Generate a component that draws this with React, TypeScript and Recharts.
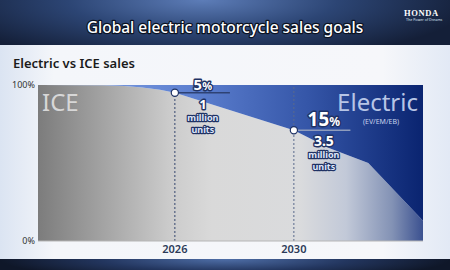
import React from 'react';
import { ComposedChart, Area, XAxis, YAxis, ReferenceLine, ReferenceDot } from 'recharts';

// share of global motorcycle sales (%)
const years = [2021.4, 2023.6, 2024.3, 2024.9, 2025.5, 2026, 2030, 2031.2, 2032.5, 2034.34];
const iceShare = [100, 99.8, 99.3, 98.4, 96.9, 95, 71, 59.5, 50, 13];
const electricShare = [0, 0.2, 0.7, 1.6, 3.1, 5, 29, 40.5, 50, 87];

const xTicks = [2026, 2030];
const yTicks = [0, 100];

const goalYears = [2026, 2030];
const goalIce = [95, 71];
const goalPct = ['5', '15'];
const goalUnits = ['1', '3.5'];

const NAVY = '#1f3264';
const FONT = '"Noto Sans", "Open Sans", sans-serif';

const rows = years.map((year, i) => ({ year, ice: iceShare[i], electric: electricShare[i] }));

function GoalMarker(props: any) {
  const { cx, cy, idx } = props;
  const big = idx === 1;
  const tx = cx + (big ? 30 : 28);
  const outline = { stroke: NAVY, strokeWidth: 2.8, paintOrder: 'stroke' as const, strokeLinejoin: 'round' as const };
  return (
    <g fontFamily={FONT} fontWeight={700} textAnchor="middle">
      <circle cx={cx} cy={cy} r={3.6} fill="#fff" stroke={NAVY} strokeWidth={1.2} />
      <text x={tx} y={cy - (big ? 4 : 3)} fill="#fff" fontSize={big ? 19 : 15} {...outline}>
        {goalPct[idx]}
        <tspan fontSize={big ? 12 : 11}>%</tspan>
      </text>
      <text x={tx} y={cy + 16} fill="#fff" fontSize={big ? 14 : 13} {...outline}>
        {goalUnits[idx]}
      </text>
      <text x={tx} y={cy + 28} fill="#dfe7fb" fontSize={9} {...outline} strokeWidth={2.4}>
        million
      </text>
      <text x={tx} y={cy + 40} fill="#dfe7fb" fontSize={9} {...outline} strokeWidth={2.4}>
        units
      </text>
    </g>
  );
}

export default function App() {
  return (
    <div
      style={{
        position: 'absolute',
        left: 0,
        top: 0,
        width: 450,
        height: 270,
        overflow: 'hidden',
        background: 'linear-gradient(to right, #dbe4f2 0%, #f4f6fa 12%, #f6f7fa 85%, #e2e9f5 100%)',
      }}
    >
      <div
        style={{
          position: 'absolute',
          left: 0,
          top: 0,
          width: 450,
          height: 45,
          background: 'radial-gradient(ellipse 60% 140% at 45% 0%, #5d7db8 0%, #2c4574 50%, #141f38 100%)',
        }}
      />
      <div
        style={{
          position: 'absolute',
          left: 0,
          top: 259,
          width: 450,
          height: 11,
          background: 'radial-gradient(ellipse 50% 200% at 50% 0%, #4f6fa8 0%, #23365f 55%, #0f1729 100%)',
        }}
      />
      <div style={{ position: 'absolute', left: 0, top: 0 }}>
        <ComposedChart width={450} height={270} data={rows} margin={{ top: 85, right: 27, bottom: 9, left: 8 }}>
          <defs>
            <linearGradient id="iceFill" x1="0" y1="0" x2="1" y2="0">
              <stop offset="0" stopColor="#7c7c7c" />
              <stop offset="0.34" stopColor="#cbcbcb" />
              <stop offset="0.45" stopColor="#d9d9d9" />
              <stop offset="0.68" stopColor="#dadbdd" />
              <stop offset="0.8" stopColor="#c2c9d8" />
              <stop offset="0.92" stopColor="#8392b5" />
              <stop offset="1" stopColor="#3b5190" />
            </linearGradient>
            <linearGradient id="evFill" x1="0" y1="0" x2="1" y2="0">
              <stop offset="0" stopColor="#86a6e6" />
              <stop offset="0.4" stopColor="#5d80d0" />
              <stop offset="0.7" stopColor="#3556a8" />
              <stop offset="1" stopColor="#0a2470" />
            </linearGradient>
          </defs>
          <XAxis
            type="number"
            dataKey="year"
            domain={[2021.4, 2034.34]}
            ticks={xTicks}
            allowDataOverflow
            height={20}
            tickLine={false}
            tickSize={0}
            tickMargin={4}
            axisLine={{ stroke: '#b5b5b5' }}
            tick={{ fontSize: 11, fontWeight: 600, fill: '#2b3a58', fontFamily: FONT }}
          />
          <YAxis
            domain={[0, 100]}
            ticks={yTicks}
            width={30}
            tickLine={false}
            axisLine={false}
            tickSize={0}
            tickMargin={3}
            tickFormatter={(v: number) => `${v}%`}
            tick={{ fontSize: 9, fill: '#333', fontFamily: FONT }}
          />
          <Area
            dataKey="ice"
            stackId="share"
            type="linear"
            stroke="none"
            fill="url(#iceFill)"
            fillOpacity={1}
            isAnimationActive={false}
          />
          <Area
            dataKey="electric"
            stackId="share"
            type="linear"
            stroke="none"
            fill="url(#evFill)"
            fillOpacity={1}
            isAnimationActive={false}
          />
          <ReferenceLine
            segment={[{ x: goalYears[0], y: 0 }, { x: goalYears[0], y: goalIce[0] }]}
            stroke="#34466e"
            strokeDasharray="2 2"
          />
          <ReferenceLine x={goalYears[1]} stroke="#5a6a8c" strokeDasharray="2 2" />
          <ReferenceLine
            segment={[{ x: goalYears[0], y: goalIce[0] }, { x: goalYears[0] + 1.85, y: goalIce[0] }]}
            stroke="#2e4274"
            strokeWidth={1.6}
          />
          <ReferenceLine
            segment={[{ x: goalYears[1], y: goalIce[1] }, { x: goalYears[1] + 1.9, y: goalIce[1] }]}
            stroke="#8e9cbc"
            strokeWidth={1.6}
          />
          {goalYears.map((yr, i) => (
            <ReferenceDot
              key={yr}
              x={yr}
              y={goalIce[i]}
              r={3.6}
              shape={(p: any) => <GoalMarker {...p} idx={i} />}
            />
          ))}
        </ComposedChart>
      </div>
      <svg
        width={450}
        height={270}
        style={{ position: 'absolute', left: 0, top: 0, pointerEvents: 'none' }}
        fontFamily={FONT}
      >
        <text
          x={225}
          y={33}
          textAnchor="middle"
          fontSize={15.5}
          fontWeight={500}
          fill="#fff"
          stroke="#0b1222"
          strokeWidth={2.4}
          paintOrder="stroke"
          strokeLinejoin="round"
        >
          Global electric motorcycle sales goals
        </text>
        <text x={404} y={16} fontSize={8.5} fontWeight={700} fill="#fff" letterSpacing={0.6} fontFamily='"Liberation Serif", serif'>
          HONDA
        </text>
        <text x={406} y={20.5} fontSize={3.6} fill="#dfe6f5">
          The Power of Dreams
        </text>
        <text x={13} y={68} fontSize={13} fontWeight={600} fill="#1b1b1b">
          Electric vs ICE sales
        </text>
        <text x={42} y={111} fontSize={24} fill="#d7d7d7">
          ICE
        </text>
        <text x={418} y={111} textAnchor="end" fontSize={24} fill="#b7c5e6">
          Electric
        </text>
        <text x={381} y={124} textAnchor="middle" fontSize={7} fill="#c6d1ec">
          (EV/EM/EB)
        </text>
      </svg>
    </div>
  );
}
